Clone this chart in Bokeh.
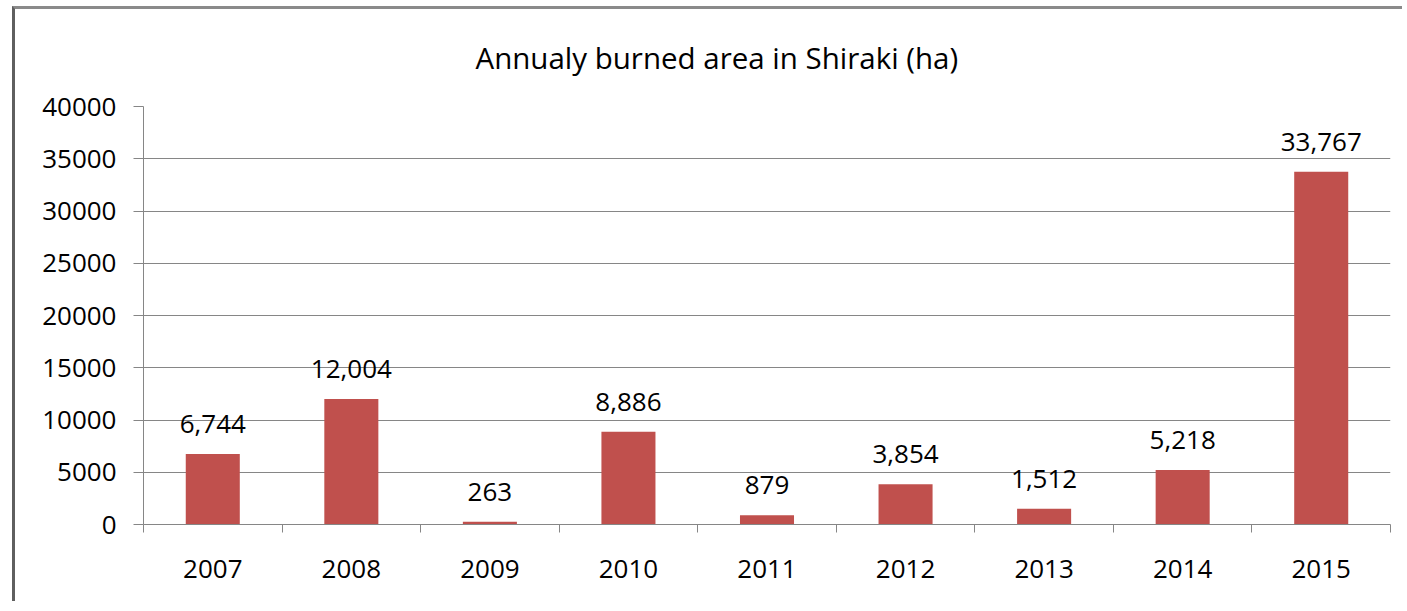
import numpy as np
from bokeh.plotting import figure
from bokeh.models import Range1d, FixedTicker, ColumnDataSource
from bokeh.embed import file_html
from bokeh.resources import INLINE
from bokeh.core.properties import value

title_text = "Annualy burned area in Shiraki (ha)"
years = ["2007", "2008", "2009", "2010", "2011", "2012", "2013", "2014", "2015"]
burned = [6744, 12004, 263, 8886, 879, 3854, 1512, 5218, 33767]
y_ticks = [0, 5000, 10000, 15000, 20000, 25000, 30000, 35000, 40000]
y_max = 40000

FONT = "Open Sans"
GRID = "#868686"
BAR = "#C0504D"

n = len(years)
xc = (np.arange(n) + 0.5).tolist()
labels = [f"{v:,}" for v in burned]
src = ColumnDataSource(dict(x=xc, top=burned, label=labels))

p = figure(width=1390, height=595, output_backend="svg", toolbar_location=None,
           x_range=Range1d(0, n), y_range=Range1d(0, y_max),
           min_border_left=128, min_border_right=15, min_border_top=96,
           min_border_bottom=80)
p.styles = {"border-left": "3px solid #5f5f5f", "border-top": "3px solid #8a8a8a",
            "margin": "6px 0px 0px 6px", "position": "relative", "left": "6px"}
p.outline_line_color = None
p.background_fill_color = "white"
p.border_fill_color = "white"

p.title.text = title_text
p.title.align = "left"
p.title.offset = 332
p.title.vertical_align = "top"
p.title.text_font = FONT
p.title.text_font_size = "29.5px"
p.title.text_font_style = "normal"
p.title.text_color = "#000000"
p.title.standoff = 54

p.vbar(x="x", top="top", width=0.39, source=src, fill_color=BAR, line_color=None)
p.text(x="x", y="top", text="label", source=src, text_align="center",
       text_baseline="middle", y_offset=-30, text_font=value(FONT),
       text_font_size="26px", text_color="#000000")

xa = p.xaxis[0]
xa.ticker = FixedTicker(ticks=xc, minor_ticks=list(range(n + 1)))
xa.major_label_overrides = {x: y for x, y in zip(xc, years)}
xa.major_tick_line_color = None
xa.major_tick_out = 8
xa.major_tick_in = 0
xa.minor_tick_line_color = GRID
xa.minor_tick_out = 8
xa.minor_tick_in = 0
xa.axis_line_color = GRID
xa.major_label_standoff = 27
xa.major_label_text_font = FONT
xa.major_label_text_font_size = "26px"
xa.major_label_text_color = "#000000"

ya = p.yaxis[0]
ya.ticker = FixedTicker(ticks=y_ticks)
ya.minor_tick_line_color = None
ya.major_tick_line_color = GRID
ya.major_tick_out = 10
ya.major_tick_in = 0
ya.axis_line_color = GRID
ya.major_label_standoff = 17
ya.major_label_text_font = FONT
ya.major_label_text_font_size = "26px"
ya.major_label_text_color = "#000000"

p.xgrid.grid_line_color = None
p.ygrid.ticker = FixedTicker(ticks=y_ticks)
p.ygrid.grid_line_color = GRID

open("out.html", "w").write(file_html(p, INLINE))
